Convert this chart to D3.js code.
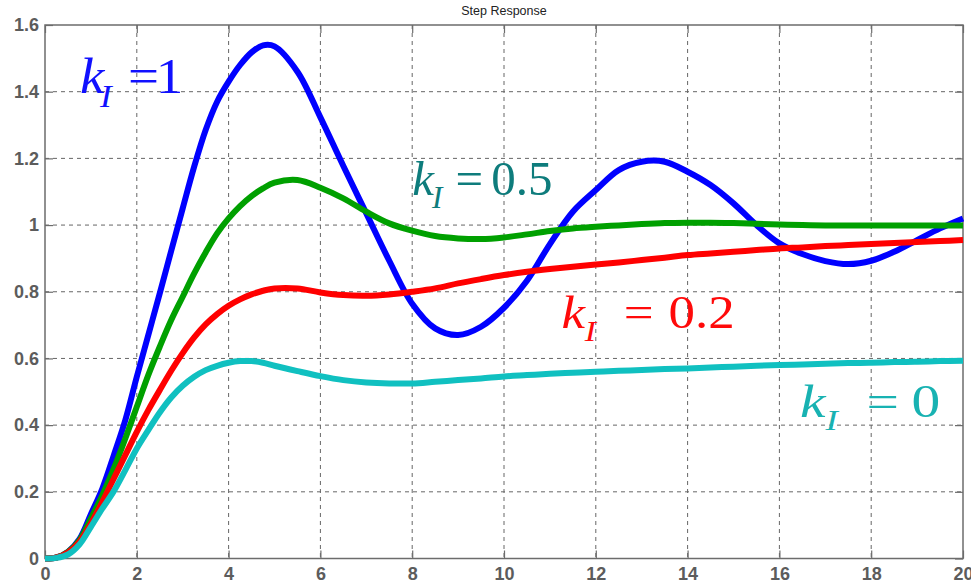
<!DOCTYPE html>
<html>
<head>
<meta charset="utf-8">
<script src="https://cdn.jsdelivr.net/npm/d3@7"></script>
<style>
  html, body { margin: 0; padding: 0; background: #ffffff; }
  svg { display: block; }
</style>
</head>
<body>
<svg id="chart" width="971" height="583"></svg>
<script>
// ---------------- data ----------------
const chartTitle = "Step Response";
const time = [0, 0.25, 0.5, 0.75, 1, 1.25, 1.5, 1.75, 2, 2.25, 2.5, 2.75, 3, 3.25, 3.5, 3.75,
  4, 4.25, 4.5, 4.75, 5, 5.5, 6, 6.5, 7, 7.5, 8, 8.5, 9, 9.5, 10, 10.5, 11, 11.5, 12, 12.5,
  13, 13.5, 14, 14.5, 15, 15.5, 16, 16.5, 17, 17.5, 18, 18.5, 19, 19.5, 20];

const kI1 = [0, 0.003, 0.02, 0.058, 0.133, 0.21, 0.31, 0.415, 0.545, 0.67, 0.795, 0.923, 1.05,
  1.175, 1.285, 1.37, 1.43, 1.48, 1.518, 1.539, 1.536, 1.46, 1.323, 1.177, 1.035, 0.893,
  0.764, 0.69, 0.67, 0.695, 0.752, 0.833, 0.943, 1.04, 1.105, 1.165, 1.19, 1.19, 1.16, 1.12,
  1.065, 1.0, 0.945, 0.913, 0.892, 0.883, 0.893, 0.92, 0.955, 0.99, 1.02];

const kI05 = [0, 0.003, 0.02, 0.055, 0.12, 0.19, 0.27, 0.36, 0.455, 0.55, 0.635, 0.715, 0.785,
  0.855, 0.918, 0.975, 1.02, 1.057, 1.087, 1.11, 1.127, 1.135, 1.112, 1.08, 1.04, 1.005, 0.983,
  0.967, 0.96, 0.958, 0.963, 0.972, 0.982, 0.99, 0.995, 0.999, 1.003, 1.006, 1.007, 1.007,
  1.006, 1.004, 1.002, 1.0, 0.999, 0.999, 0.999, 0.999, 0.999, 0.999, 0.999];

const kI02 = [0, 0.003, 0.018, 0.05, 0.105, 0.17, 0.24, 0.31, 0.38, 0.445, 0.505, 0.563, 0.616,
  0.663, 0.702, 0.733, 0.758, 0.777, 0.792, 0.803, 0.81, 0.81, 0.798, 0.79, 0.788, 0.792, 0.8,
  0.81, 0.825, 0.838, 0.85, 0.86, 0.868, 0.875, 0.882, 0.888, 0.895, 0.902, 0.91, 0.915, 0.92,
  0.925, 0.93, 0.933, 0.937, 0.94, 0.943, 0.946, 0.949, 0.952, 0.955];

const kI0 = [0, 0.002, 0.012, 0.042, 0.095, 0.15, 0.202, 0.265, 0.33, 0.385, 0.438, 0.483, 0.518,
  0.545, 0.565, 0.578, 0.587, 0.592, 0.592, 0.587, 0.578, 0.562, 0.547, 0.535, 0.528, 0.525,
  0.525, 0.53, 0.535, 0.54, 0.546, 0.55, 0.554, 0.557, 0.56, 0.563, 0.565, 0.568, 0.57, 0.573,
  0.575, 0.578, 0.58, 0.582, 0.584, 0.586, 0.587, 0.589, 0.59, 0.592, 0.593];

const seriesNames = ["kI = 1", "kI = 0.5", "kI = 0.2", "kI = 0"];
const seriesValues = [kI1, kI05, kI02, kI0];
const seriesColors = ["#0000ff", "#00a000", "#ff0000", "#10c0c0"];

const xTicks = [0, 2, 4, 6, 8, 10, 12, 14, 16, 18, 20];
const xTickLabels = ["0", "2", "4", "6", "8", "10", "12", "14", "16", "18", "20"];
const yTicks = [0, 0.2, 0.4, 0.6, 0.8, 1, 1.2, 1.4, 1.6];
const yTickLabels = ["0", "0.2", "0.4", "0.6", "0.8", "1", "1.2", "1.4", "1.6"];

// annotation labels: value text, anchor in data coordinates
const labelValues = ["1", "0.5", "0.2", "0"];
const labelX = [0.76, 8.0, 11.25, 16.45];
const labelY = [1.397, 1.09, 0.69, 0.425];
const labelColors = ["#1010ff", "#0e7c7c", "#ff0a0a", "#18b2b2"];

// ---------------- layout ----------------
const svg = d3.select("#chart");
const margin = { left: 45, right: 8, top: 25, bottom: 24.5 };
const W = 971, H = 583;
const x = d3.scaleLinear().domain([0, 20]).range([margin.left, W - margin.right]);
const y = d3.scaleLinear().domain([0, 1.6]).range([H - margin.bottom, margin.top]);

const boxColor = "#6c6c6c";
const tickColor = "#5c5c5c";

// grid (dashed)
const grid = svg.append("g");
grid.selectAll("line.vg").data(xTicks.slice(1, -1)).join("line")
  .attr("x1", d => x(d)).attr("x2", d => x(d))
  .attr("y1", y(1.6)).attr("y2", y(0))
  .attr("stroke", "#666").attr("stroke-width", 1).attr("stroke-dasharray", "4,4");
grid.selectAll("line.hg").data(yTicks.slice(1, -1)).join("line")
  .attr("y1", d => y(d)).attr("y2", d => y(d))
  .attr("x1", x(0)).attr("x2", x(20))
  .attr("stroke", "#666").attr("stroke-width", 1).attr("stroke-dasharray", "4,4");

// axes via d3 axis generators (ticks inward, on all four sides)
const tickLen = 8;
const xAxisB = d3.axisBottom(x).tickValues(xTicks).tickSizeInner(-tickLen).tickSizeOuter(0)
  .tickFormat((d, i) => xTickLabels[i]).tickPadding(9);
const yAxisL = d3.axisLeft(y).tickValues(yTicks).tickSizeInner(-tickLen).tickSizeOuter(0)
  .tickFormat((d, i) => yTickLabels[i]).tickPadding(6);
const xAxisT = d3.axisTop(x).tickValues(xTicks).tickSizeInner(-tickLen).tickSizeOuter(0).tickFormat("");
const yAxisR = d3.axisRight(y).tickValues(yTicks).tickSizeInner(-tickLen).tickSizeOuter(0).tickFormat("");

function styleAxis(g) {
  g.select(".domain").remove();
  g.selectAll(".tick line").attr("stroke", boxColor).attr("stroke-width", 1.2);
  g.selectAll(".tick text")
    .attr("fill", tickColor)
    .style("font-family", "'Liberation Sans', Arial, sans-serif")
    .style("font-weight", "bold")
    .style("font-size", "18px");
}
svg.append("g").attr("transform", `translate(0,${y(0)})`).call(xAxisB).call(styleAxis);
svg.append("g").attr("transform", `translate(${x(0)},0)`).call(yAxisL).call(styleAxis);
svg.append("g").attr("transform", `translate(0,${y(1.6)})`).call(xAxisT).call(styleAxis);
svg.append("g").attr("transform", `translate(${x(20)},0)`).call(yAxisR).call(styleAxis);

// box
svg.append("rect")
  .attr("x", x(0)).attr("y", y(1.6))
  .attr("width", x(20) - x(0)).attr("height", y(0) - y(1.6))
  .attr("fill", "none").attr("stroke", boxColor).attr("stroke-width", 1.5);

// title
svg.append("text")
  .attr("x", (x(0) + x(20)) / 2).attr("y", 15)
  .attr("text-anchor", "middle")
  .style("font-family", "'Liberation Sans', Arial, sans-serif")
  .style("font-size", "12.5px")
  .attr("fill", "#222")
  .text(chartTitle);

// curves
const line = d3.line()
  .x((d, i) => x(time[i]))
  .y(d => y(d))
  .curve(d3.curveCatmullRom.alpha(0.5));

svg.append("g").selectAll("path").data(seriesValues).join("path")
  .attr("d", d => line(d))
  .attr("fill", "none")
  .attr("stroke", (d, i) => seriesColors[i])
  .attr("stroke-width", 6)
  .attr("stroke-linejoin", "round")
  .attr("stroke-linecap", "butt")
  .attr("aria-label", (d, i) => seriesNames[i]);

// annotation labels  k_I = value
const labelFont = [50, 48, 46, 46];
const labelStretch = [1.1, 1.02, 1.15, 1.25];
const gapEq = [15, 13, 24, 23];
const gapNum = [-3, 8, 13, 10];
const subShift = [-4, -2, 0, 0];

labelValues.forEach((v, i) => {
  const g = svg.append("g")
    .attr("transform", `translate(${x(labelX[i])},${y(labelY[i])}) scale(${labelStretch[i]},1)`);
  const t = g.append("text")
    .attr("x", 0).attr("y", 0)
    .attr("fill", labelColors[i])
    .style("font-family", "'Liberation Serif', 'Times New Roman', serif")
    .style("font-size", labelFont[i] + "px");
  t.append("tspan").style("font-style", "italic").text("k");
  t.append("tspan").style("font-style", "italic")
    .style("font-size", (labelFont[i] * 0.64) + "px")
    .attr("dx", subShift[i])
    .attr("dy", labelFont[i] * 0.28)
    .text("I");
  t.append("tspan")
    .attr("dx", gapEq[i])
    .attr("dy", -labelFont[i] * 0.28)
    .text("=");
  t.append("tspan")
    .attr("dx", gapNum[i])
    .text(v);
});
</script>
</body>
</html>
